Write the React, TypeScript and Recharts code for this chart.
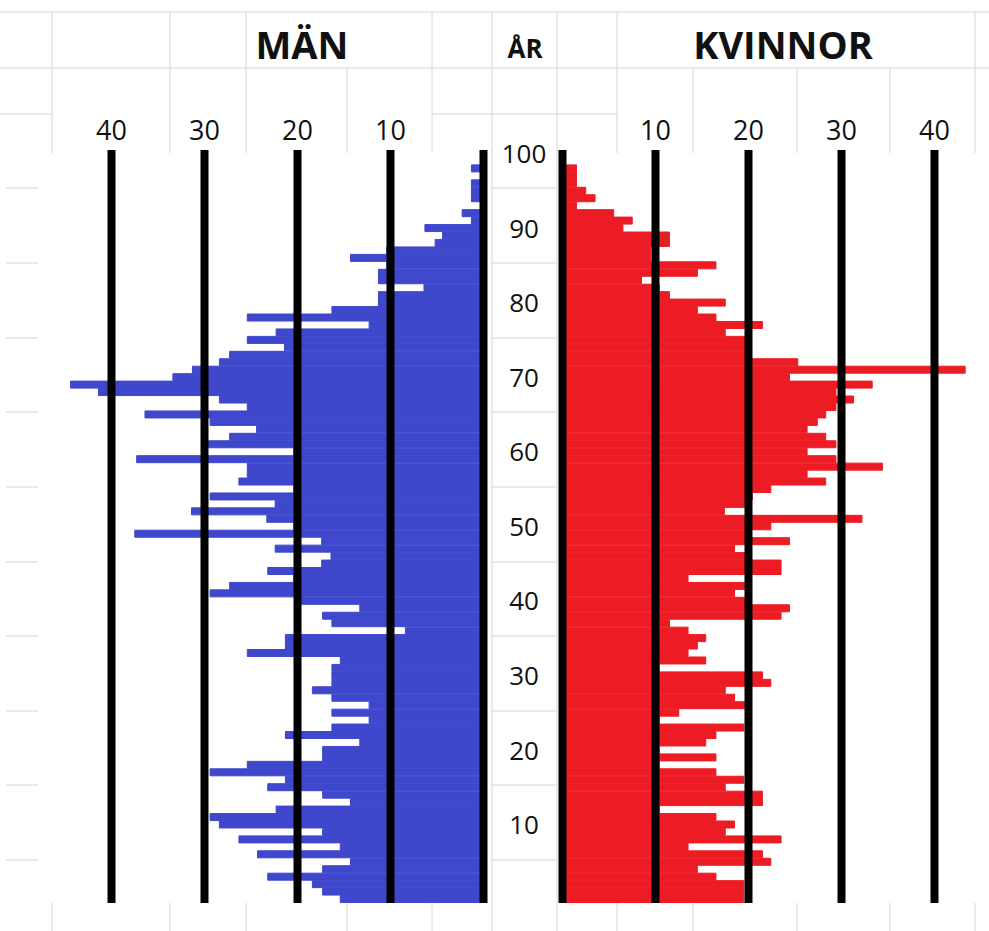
import { BarChart, Bar, XAxis, YAxis, ReferenceLine } from "recharts";

// ages, top row first (100 down to 0)
const ages = [
  100, 99, 98, 97, 96, 95, 94, 93, 92, 91,
  90, 89, 88, 87, 86, 85, 84, 83, 82, 81,
  80, 79, 78, 77, 76, 75, 74, 73, 72, 71,
  70, 69, 68, 67, 66, 65, 64, 63, 62, 61,
  60, 59, 58, 57, 56, 55, 54, 53, 52, 51,
  50, 49, 48, 47, 46, 45, 44, 43, 42, 41,
  40, 39, 38, 37, 36, 35, 34, 33, 32, 31,
  30, 29, 28, 27, 26, 25, 24, 23, 22, 21,
  20, 19, 18, 17, 16, 15, 14, 13, 12, 11,
  10, 9, 8, 7, 6, 5, 4, 3, 2, 1, 0,
];

const men = [
  0, 0, 1.3, 0, 1.3, 1.3, 1.3, 0, 2.3, 1.3,
  6.3, 4.4, 5.2, 10.4, 14.3, 10.4, 11.3, 11.3, 6.4, 11.3,
  11.3, 16.3, 25.4, 12.3, 22.3, 25.4, 21.4, 27.3, 28.4, 31.3,
  33.4, 44.4, 41.4, 28.4, 25.4, 36.4, 29.4, 24.4, 27.3, 29.6,
  20.4, 37.3, 25.4, 25.4, 26.3, 20.4, 29.4, 22.4, 31.4, 23.3,
  20.4, 37.5, 17.4, 22.4, 16.4, 17.4, 23.2, 20.4, 27.3, 29.4,
  20.2, 13.3, 17.3, 16.3, 8.4, 21.3, 21.3, 25.4, 15.4, 16.3,
  16.3, 16.3, 18.4, 16.3, 12.3, 16.3, 12.3, 16.3, 21.3, 13.3,
  17.3, 17.3, 25.4, 29.4, 21.3, 23.2, 17.3, 14.3, 22.3, 29.4,
  28.4, 17.3, 26.3, 15.4, 24.3, 14.3, 17.3, 23.2, 18.4, 17.3, 15.4,
];

const women = [
  0, 0, 1.5, 1.5, 1.5, 2.5, 3.5, 1.5, 5.5, 7.5,
  6.5, 11.5, 11.5, 9.5, 9.5, 16.5, 14.5, 8.5, 10.4, 11.5,
  17.5, 14.5, 16.5, 21.5, 17.5, 19.7, 19.7, 19.7, 25.3, 43.3,
  24.4, 33.3, 29.4, 31.3, 29.4, 28.3, 27.4, 26.3, 28.3, 29.4,
  26.3, 29.4, 34.4, 26.3, 28.3, 22.4, 20.4, 19.7, 17.4, 32.2,
  22.4, 19.7, 24.4, 18.5, 19.7, 23.5, 23.5, 13.5, 19.7, 18.5,
  19.7, 24.4, 23.5, 11.5, 13.5, 15.4, 14.5, 13.5, 15.4, 10.4,
  21.5, 22.4, 17.5, 18.5, 19.7, 12.5, 10.4, 19.5, 16.5, 15.4,
  10.4, 16.5, 10.4, 16.5, 19.5, 17.5, 21.5, 21.5, 10.4, 16.5,
  18.5, 17.5, 23.5, 13.5, 21.5, 22.4, 14.5, 16.5, 19.5, 19.5, 19.5,
];

const scaleTicks = [10, 20, 30, 40];
const refLines = [0, 10, 20, 30, 40];

const data = ages.map((age, i) => ({ age, men: men[i], women: women[i] }));

const FONT = "'Open Sans', sans-serif";
const GRID = "#d6d6d6";
const BLUE = "#3F48CC";
const RED = "#ED1C24";

const TopTick = ({ x, payload }: any) => (
  <text x={x} y={140} textAnchor="middle" fontSize={27} fill="#111" fontFamily={FONT}>
    {payload.value}
  </text>
);

const AgeTick = ({ y, payload }: any) => {
  const v = payload.value;
  if (v === 0 || v % 10 !== 0) return <g />;
  return (
    <text x={524} y={y} dy="0.36em" textAnchor="middle" fontSize={26} fill="#111" fontFamily={FONT}>
      {v}
    </text>
  );
};

// spreadsheet cell lines behind the charts
const rowLines = [188, 263, 338, 412, 487, 562, 636, 711, 785, 860];
const headTopCols = [52, 170, 246, 432, 492, 557, 617, 975];
const headCols = [52, 170, 246, 347, 432, 492, 557, 617, 693, 797, 890, 975];

const SheetGrid = () => (
  <svg width={989} height={931} style={{ position: "absolute", left: 0, top: 0 }}>
    <line x1={0} x2={989} y1={12} y2={12} stroke={GRID} />
    <line x1={0} x2={989} y1={68} y2={68} stroke={GRID} />
    <line x1={0} x2={52} y1={114} y2={114} stroke={GRID} />
    <line x1={432} x2={617} y1={114} y2={114} stroke={GRID} />
    {headTopCols.map((x) => (
      <line key={"t" + x} x1={x} x2={x} y1={12} y2={68} stroke={GRID} />
    ))}
    {headCols.map((x) => (
      <line key={"h" + x} x1={x} x2={x} y1={68} y2={153} stroke={GRID} />
    ))}
    {headCols.map((x) => (
      <line key={"b" + x} x1={x} x2={x} y1={903} y2={931} stroke={GRID} />
    ))}
    <line x1={492} x2={492} y1={150} y2={903} stroke={GRID} />
    <line x1={557} x2={557} y1={150} y2={903} stroke={GRID} />
    {rowLines.map((y) => (
      <g key={"r" + y}>
        <line x1={6} x2={38} y1={y} y2={y} stroke={GRID} />
        <line x1={492} x2={557} y1={y} y2={y} stroke={GRID} />
      </g>
    ))}
  </svg>
);

const headStyle: React.CSSProperties = {
  position: "absolute",
  fontFamily: FONT,
  fontWeight: 700,
  color: "#111",
  transform: "translate(-50%, -50%)",
  whiteSpace: "nowrap",
  lineHeight: 1,
};

export default function App() {
  return (
    <div
      style={{
        position: "absolute",
        left: 0,
        top: 0,
        width: 989,
        height: 931,
        background: "#fff",
        overflow: "hidden",
      }}
    >
      <SheetGrid />

      <div style={{ ...headStyle, left: 302, top: 44, fontSize: 38 }}>MÄN</div>
      <div style={{ ...headStyle, left: 525, top: 48, fontSize: 26 }}>ÅR</div>
      <div style={{ ...headStyle, left: 783, top: 44, fontSize: 38 }}>KVINNOR</div>

      <div style={{ position: "absolute", left: 0, top: 0 }}>
        <BarChart
          width={560}
          height={931}
          data={data}
          layout="vertical"
          barCategoryGap={0}
          barGap={0}
          margin={{ top: 120, right: 0, bottom: 28, left: 55.7 }}
        >
          <XAxis
            type="number"
            orientation="top"
            domain={[0, 46]}
            reversed
            ticks={scaleTicks}
            tick={<TopTick />}
            axisLine={false}
            tickLine={false}
            height={30}
          />
          <YAxis
            type="category"
            dataKey="age"
            orientation="right"
            width={76.5}
            interval={0}
            tick={<AgeTick />}
            axisLine={false}
            tickLine={false}
          />
          <Bar dataKey="men" fill={BLUE} stroke={BLUE} strokeWidth={1} isAnimationActive={false} />
          {refLines.map((v) => (
            <ReferenceLine key={v} x={v} stroke="#000" strokeWidth={8} />
          ))}
        </BarChart>
      </div>

      <div style={{ position: "absolute", left: 480, top: 0 }}>
        <BarChart
          width={509}
          height={931}
          data={data}
          layout="vertical"
          barCategoryGap={0}
          barGap={0}
          margin={{ top: 120, right: 8, bottom: 28, left: 82.5 }}
        >
          <XAxis
            type="number"
            orientation="top"
            domain={[0, 45]}
            ticks={scaleTicks}
            tick={<TopTick />}
            axisLine={false}
            tickLine={false}
            height={30}
          />
          <YAxis type="category" dataKey="age" hide />
          <Bar dataKey="women" fill={RED} stroke={RED} strokeWidth={1} isAnimationActive={false} />
          {refLines.map((v) => (
            <ReferenceLine key={v} x={v} stroke="#000" strokeWidth={8} />
          ))}
        </BarChart>
      </div>
    </div>
  );
}
